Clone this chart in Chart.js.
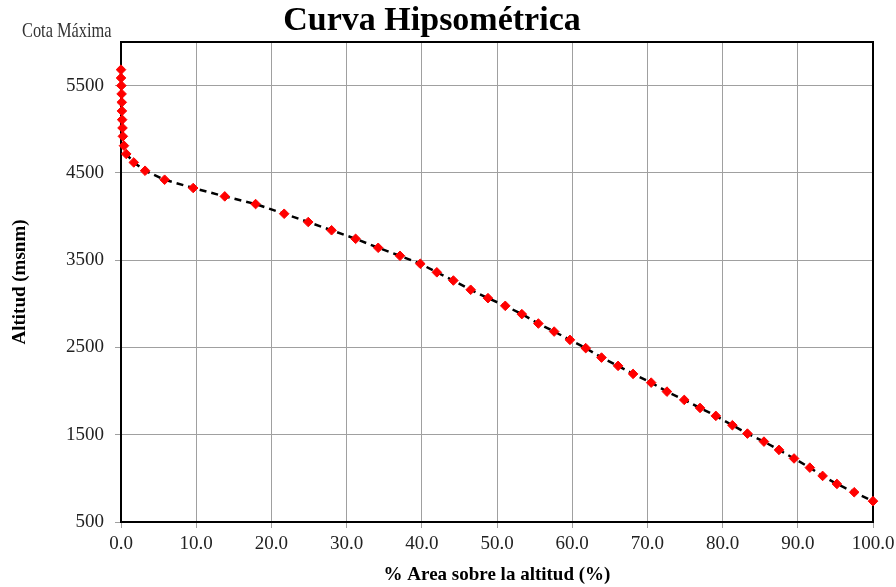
<!DOCTYPE html>
<html>
<head>
<meta charset="utf-8">
<title>Curva Hipsométrica</title>
<script src="https://cdn.jsdelivr.net/npm/chart.js@4.4.1/dist/chart.umd.min.js"></script>
<style>
  html, body { margin: 0; padding: 0; background: #fff; }
  #wrap { width: 896px; height: 587px; position: relative; }
</style>
</head>
<body>
<div id="wrap"><canvas id="hipso"></canvas></div>
<script>
// % area above altitude (x) and altitude in msnm (y)
const areaPct = [
  0.0, 0.0, 0.05, 0.08, 0.1, 0.12, 0.15, 0.2, 0.25, 0.4,
  0.7, 1.7, 3.2, 5.8, 9.6, 13.8, 17.9, 21.7, 24.9, 28.0,
  31.2, 34.2, 37.1, 39.8, 42.0, 44.2, 46.5, 48.8, 51.1, 53.3,
  55.5, 57.6, 59.7, 61.8, 63.9, 66.1, 68.1, 70.5, 72.6, 74.9,
  77.0, 79.1, 81.3, 83.3, 85.5, 87.5, 89.5, 91.6, 93.3, 95.2,
  97.5, 100.0
];
const altitud = [
  5683, 5588, 5500, 5405, 5309, 5210, 5110, 5015, 4919, 4812,
  4717, 4620, 4525, 4422, 4327, 4231, 4143, 4032, 3937, 3843,
  3745, 3642, 3550, 3459, 3361, 3267, 3161, 3065, 2977, 2882,
  2774, 2682, 2587, 2492, 2384, 2289, 2197, 2097, 1994, 1899,
  1807, 1716, 1609, 1513, 1421, 1326, 1228, 1123, 1028, 936,
  841, 739
];
const yTicks = [500, 1500, 2500, 3500, 4500, 5500];

const puntos = areaPct.map((x, i) => ({ x: x, y: altitud[i] }));

// black frame under the curve, then title and "Cota Máxima"
const decor = {
  id: "decor",
  beforeDatasetsDraw(chart) {
    const c = chart.ctx;
    const a = chart.chartArea;
    c.save();
    c.strokeStyle = "#000";
    c.lineWidth = 2;
    c.strokeRect(a.left, a.top, a.right - a.left, a.bottom - a.top);
    c.restore();
  },
  afterDraw(chart) {
    const c = chart.ctx;
    c.save();
    c.fillStyle = "#000";
    c.font = "bold 34px 'Liberation Serif'";
    c.textAlign = "center";
    c.textBaseline = "alphabetic";
    c.fillText("Curva Hipsométrica", 432, 30);

    c.fillStyle = "#333";
    c.font = "21px 'Liberation Serif'";
    c.textAlign = "left";
    c.translate(22, 37);
    c.scale(0.78, 1);
    c.fillText("Cota Máxima", 0, 0);
    c.restore();
  }
};

const ctx = document.getElementById("hipso").getContext("2d");
const serif = "'Liberation Serif', 'Times New Roman', serif";

const hipsoChart = new Chart(ctx, {
  type: "scatter",
  data: {
    datasets: [
      {
        label: "Curva",
        data: puntos,
        showLine: true,
        clip: false,
        borderColor: "#000",
        borderWidth: 2.5,
        borderDash: [7, 5],
        pointStyle: "rectRot",
        pointRadius: 4.8,
        pointBackgroundColor: "#ff0000",
        pointBorderColor: "#ff0000",
        pointBorderWidth: 1,
      },
    ],
  },
  options: {
    responsive: true,
    maintainAspectRatio: false,
    animation: false,
    layout: { padding: { top: 42, right: 23, bottom: 0, left: 0 } },
    plugins: {
      legend: { display: false },
      tooltip: { enabled: false },
    },
    scales: {
      x: {
        type: "linear",
        min: 0,
        max: 100,
        ticks: {
          stepSize: 10,
          color: "#222",
          font: { family: serif, size: 19 },
          padding: 5,
          maxRotation: 0,
          callback: (v) => v.toFixed(1),
        },
        grid: { color: "#a0a0a0", lineWidth: 1, tickLength: 6 },
        border: { display: false },
        title: {
          display: true,
          text: "% Area sobre la altitud (%)",
          color: "#000",
          font: { family: serif, size: 19, weight: "bold" },
          padding: { top: 0, bottom: 1 },
        },
        afterFit: (scale) => {
          scale.height = 65;
          scale.paddingLeft = 0;
          scale.paddingRight = 0;
        },
      },
      y: {
        type: "linear",
        min: 500,
        max: 6000,
        afterBuildTicks: (scale) => {
          scale.ticks = yTicks.map((v) => ({ value: v }));
        },
        ticks: {
          color: "#222",
          font: { family: serif, size: 19 },
          padding: 11,
          callback: (v) => String(v),
        },
        grid: { color: "#a0a0a0", lineWidth: 1, tickLength: 6 },
        border: { display: false },
        title: {
          display: true,
          text: "Altitud (msnm)",
          color: "#000",
          font: { family: serif, size: 19, weight: "bold" },
          padding: { top: 9, bottom: 0 },
        },
        afterFit: (scale) => {
          scale.width = 121;
          scale.paddingTop = 0;
          scale.paddingBottom = 0;
        },
      },
    },
  },
  plugins: [decor],
});
</script>
</body>
</html>
